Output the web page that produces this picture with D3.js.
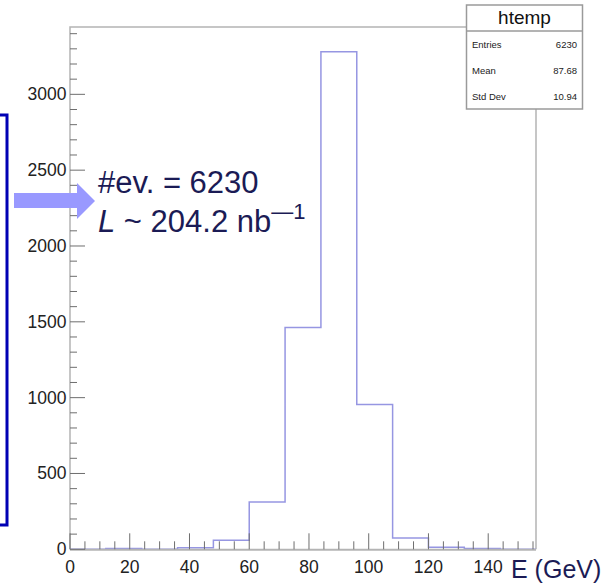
<!DOCTYPE html>
<html>
<head>
<meta charset="utf-8">
<script src="https://cdn.jsdelivr.net/npm/d3@7"></script>
<style>
html,body{margin:0;padding:0;background:#fff;}
svg{display:block;font-family:"Liberation Sans",Arial,Helvetica,sans-serif;}
</style>
</head>
<body>
<svg id="c" width="611" height="583"></svg>
<script>
// Data
const binEdgesStart = [0,12,24,36,48,60,72,84,96,108,120,132,144];
const binWidth = 12;
const counts = [0,5,0,10,60,312,1462,3280,955,75,14,5,0];
const xTicks = [0,20,40,60,80,100,120,140];
const yTicks = [0,500,1000,1500,2000,2500,3000];
const statLabels = ["Entries","Mean","Std Dev"];
const statValues = ["6230","87.68","10.94"];
const histName = "htemp";
const xTitle = "E (GeV)";

(function(){
const svg = d3.select("#c");
const pL = 70, pR = 536, pT = 27, pB = 549.3;
const x = d3.scaleLinear().domain([0,156]).range([pL,pR]);
const y = d3.scaleLinear().domain([0,3444]).range([pB,pT]);

const axisCol = "#b4b4b4";
const tickCol = "#6e6e6e";

// frame
svg.append("path")
  .attr("d", `M${pL},${pB}V${pT}H${pR}V${pB}`)
  .attr("fill","none").attr("stroke",axisCol).attr("stroke-width",1.5);

// histogram step path
const pts = [];
pts.push([x(binEdgesStart[0]), y(0)]);
binEdgesStart.forEach((s,i)=>{
  pts.push([x(s), y(counts[i])]);
  pts.push([x(s+binWidth), y(counts[i])]);
});
pts.push([x(binEdgesStart[binEdgesStart.length-1]+binWidth), y(0)]);
svg.append("path")
  .attr("d", d3.line()(pts))
  .attr("fill","none").attr("stroke","#9696e2").attr("stroke-width",1.5);

// X axis
const xAxisG = svg.append("g");
xAxisG.append("line").attr("x1",pL).attr("x2",pR).attr("y1",pB+0.5).attr("y2",pB+0.5)
  .attr("stroke",axisCol).attr("stroke-width",2);
const xMinor = d3.range(0,156,5).filter(v=>v%20!==0);
xAxisG.selectAll("line.mj").data(xTicks).enter().append("line")
  .attr("x1",d=>x(d)).attr("x2",d=>x(d)).attr("y1",pB).attr("y2",pB-16)
  .attr("stroke",tickCol).attr("stroke-width",1);
xAxisG.selectAll("line.mn").data(xMinor).enter().append("line")
  .attr("x1",d=>x(d)).attr("x2",d=>x(d)).attr("y1",pB).attr("y2",pB-8)
  .attr("stroke",tickCol).attr("stroke-width",1);
xAxisG.selectAll("text").data(xTicks).enter().append("text")
  .attr("x",d=>x(d)).attr("y",573).attr("text-anchor","middle")
  .attr("font-size",17.5).attr("fill","#222").text(d=>d);

// Y axis
const yAxisG = svg.append("g");
const yMinor = d3.range(0,3444,100).filter(v=>v%500!==0);
yAxisG.selectAll("line.mj").data(yTicks).enter().append("line")
  .attr("x1",pL).attr("x2",pL+15).attr("y1",d=>y(d)).attr("y2",d=>y(d))
  .attr("stroke",tickCol).attr("stroke-width",1);
yAxisG.selectAll("line.mn").data(yMinor).enter().append("line")
  .attr("x1",pL).attr("x2",pL+7).attr("y1",d=>y(d)).attr("y2",d=>y(d))
  .attr("stroke",tickCol).attr("stroke-width",1);
yAxisG.selectAll("text").data(yTicks).enter().append("text")
  .attr("x",66.5).attr("y",d=>y(d)+6).attr("text-anchor","end")
  .attr("font-size",17.5).attr("fill","#222").text(d=>d);

// x title
svg.append("text").attr("x",511).attr("y",578).attr("font-size",25).attr("fill","#1b1b55").text(xTitle);

// stats box
const bx=466.5, by=5, bw=116, bh=104;
svg.append("rect").attr("x",bx).attr("y",by).attr("width",bw).attr("height",bh)
  .attr("fill","#fff").attr("stroke","#9a9a9a").attr("stroke-width",1.5);
svg.append("line").attr("x1",bx).attr("x2",bx+bw).attr("y1",31).attr("y2",31)
  .attr("stroke","#9a9a9a").attr("stroke-width",1.5);
svg.append("text").attr("x",bx+bw/2).attr("y",24).attr("text-anchor","middle")
  .attr("font-size",19).attr("fill","#111").text(histName);
statLabels.forEach((l,i)=>{
  const yy = 48 + i*26;
  svg.append("text").attr("x",472).attr("y",yy).attr("font-size",9.5).attr("fill","#222").text(l);
  svg.append("text").attr("x",577).attr("y",yy).attr("text-anchor","end").attr("font-size",9.5).attr("fill","#222").text(statValues[i]);
});

// left bracket
svg.append("path").attr("d","M0,115H7V525H0").attr("fill","none")
  .attr("stroke","#0000b4").attr("stroke-width",3);

// arrow
svg.append("path").attr("d","M14,193H77V183L95,201L77,219V208H14Z").attr("fill","#9999ff");

// annotation text
const ann = svg.append("g").attr("fill","#1b1b55");
ann.append("text").attr("x",98).attr("y",193).attr("font-size",31).text("#ev. = 6230");
const t2 = ann.append("text").attr("x",98).attr("y",232).attr("font-size",31);
t2.append("tspan").attr("font-style","italic").text("L");
t2.append("tspan").text(" ~ 204.2 nb");
t2.append("tspan").attr("dy",-13).attr("font-size",22).text("—1");
})();
</script>
</body>
</html>
